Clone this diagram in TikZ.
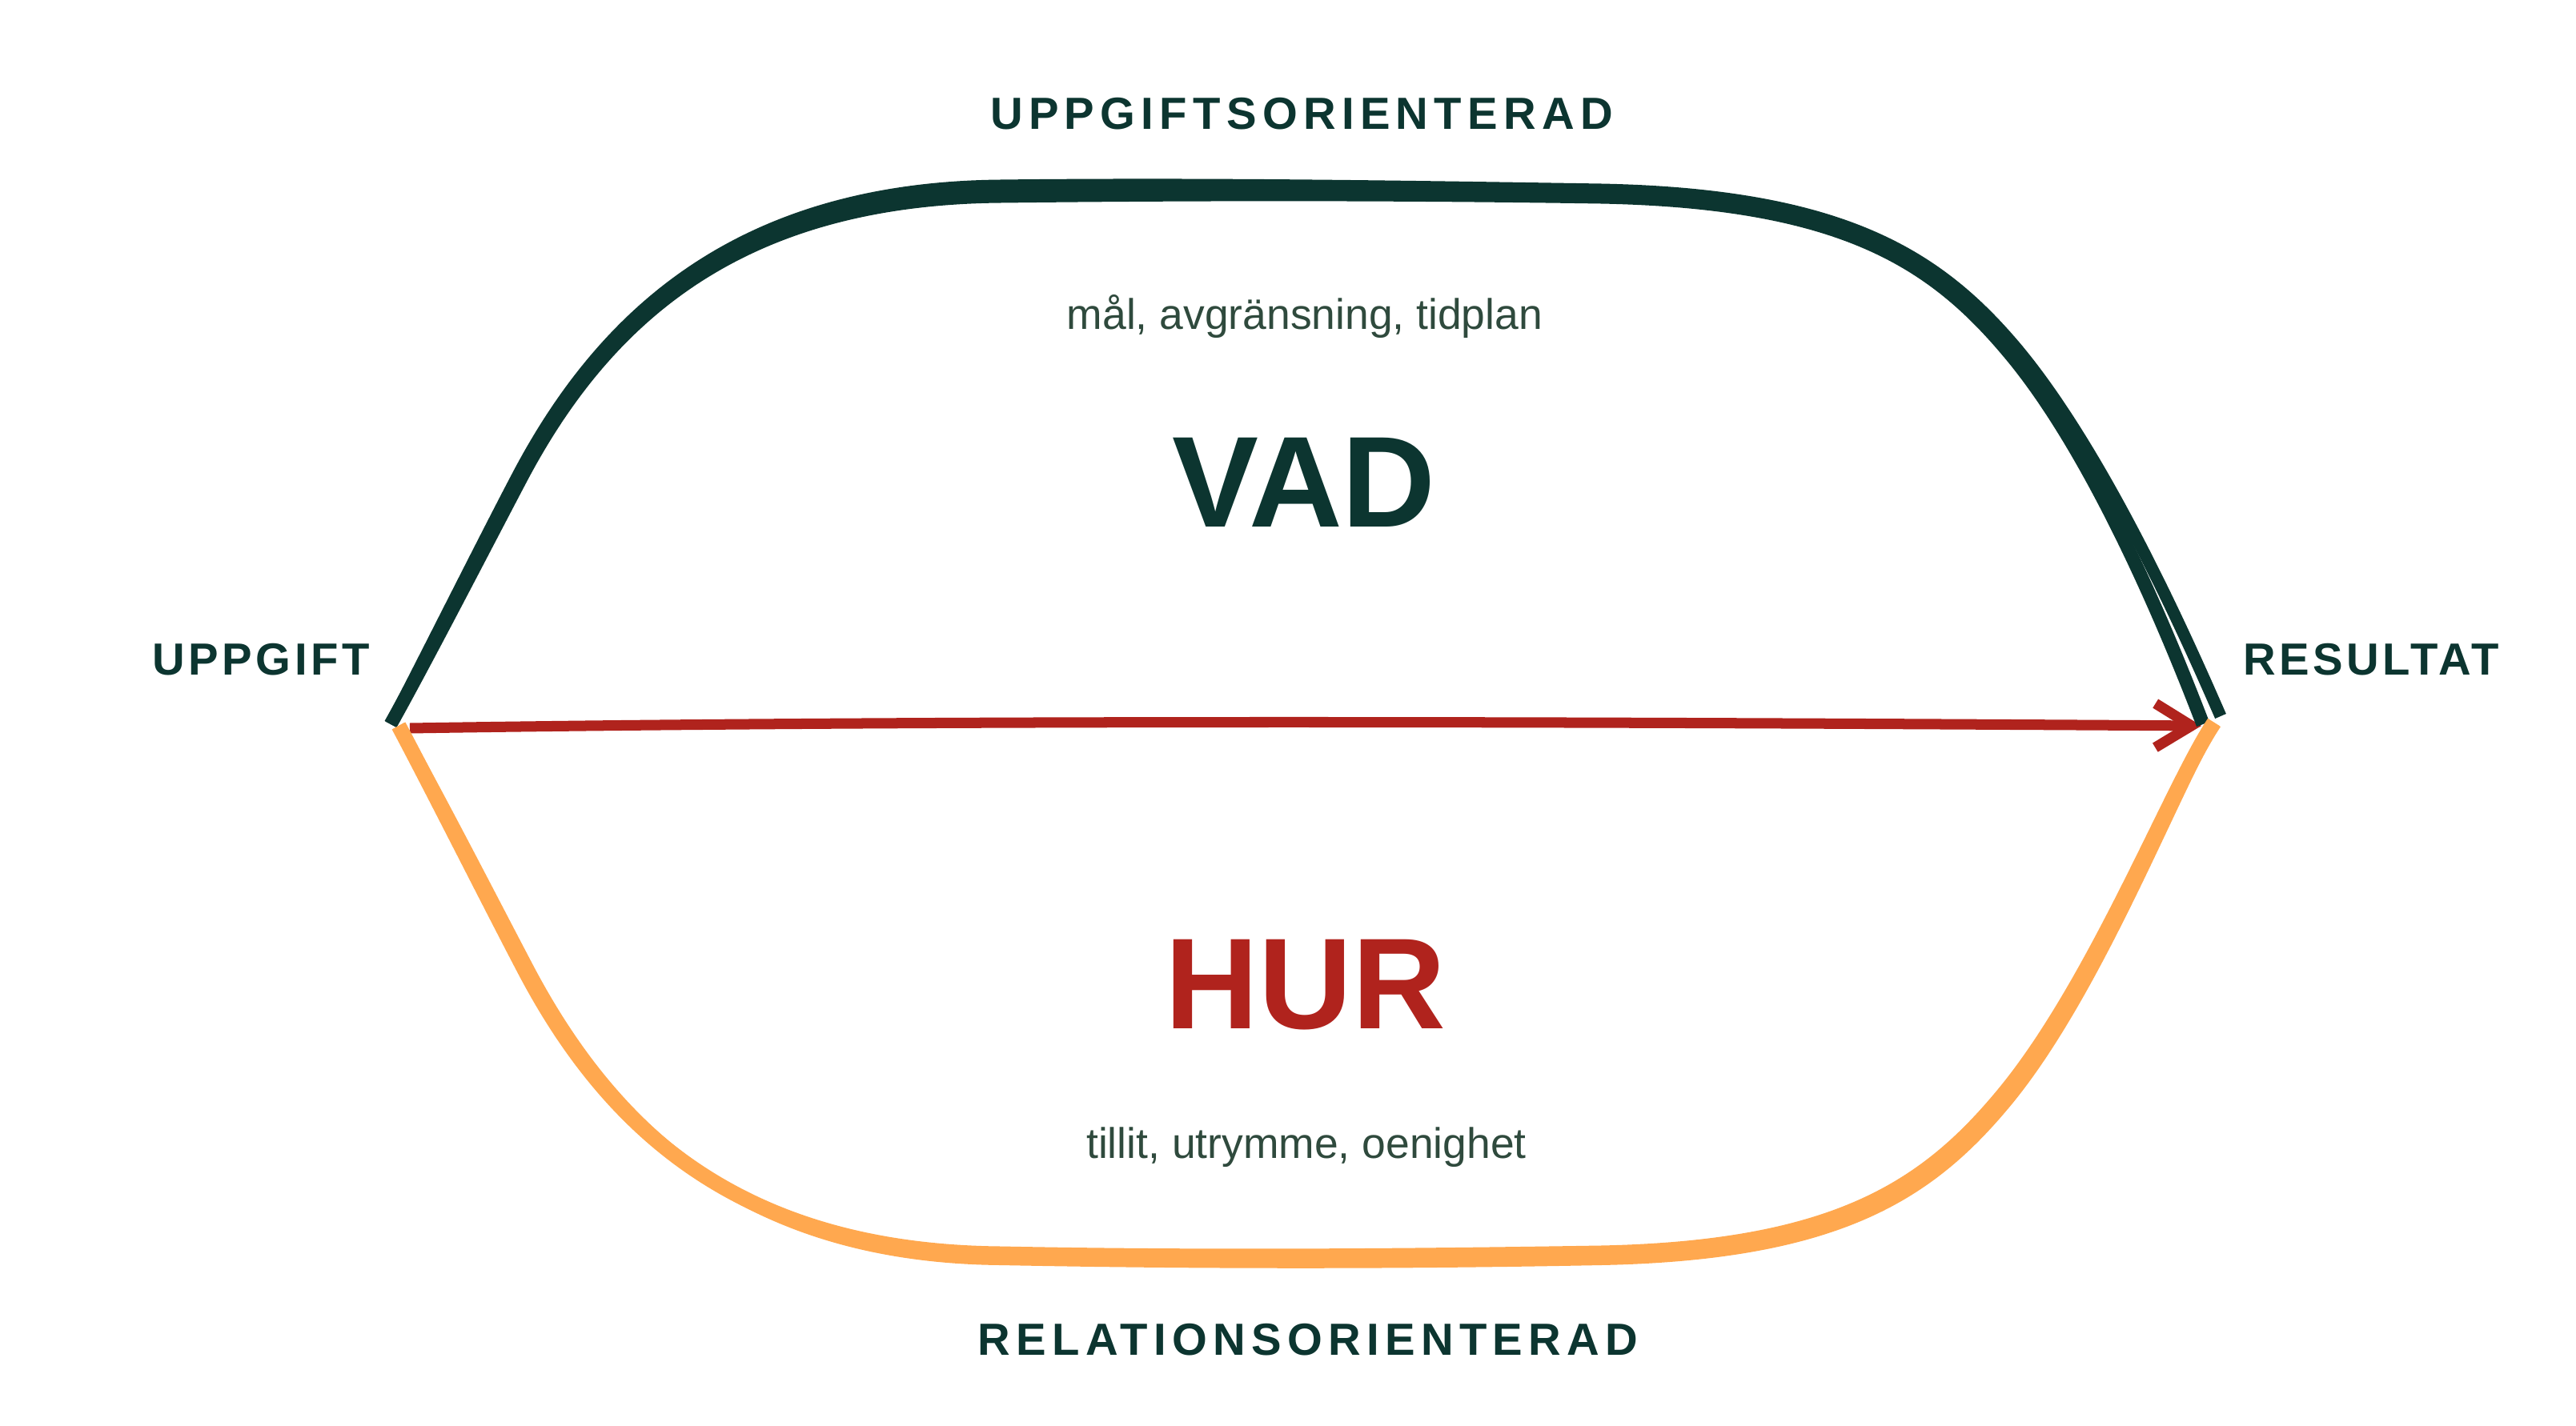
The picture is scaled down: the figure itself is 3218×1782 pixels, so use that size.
\documentclass[tikz,border=0pt]{standalone}
\usepackage{fontspec}
\setmainfont{Liberation Sans}
\newfontfamily\sidecapsfont[LetterSpace=8]{Liberation Sans}
\newfontfamily\widecapsfont[LetterSpace=13]{Liberation Sans}
\usetikzlibrary{arrows.meta}
\definecolor{vadgreen}{HTML}{0C3530}
\definecolor{hurred}{HTML}{B0231D}
\definecolor{relorange}{HTML}{FFA84F}
\definecolor{subgray}{HTML}{2F4A3D}
\begin{document}
\begin{tikzpicture}[x=0.01cm,y=-0.01cm,
  toplabel/.style={inner sep=0pt, anchor=base, text=vadgreen,
    font={\widecapsfont\bfseries\fontsize{16}{19}\selectfont}},
  sidelabel/.style={inner sep=0pt, anchor=base, text=vadgreen,
    font={\sidecapsfont\bfseries\fontsize{16}{19}\selectfont}},
  bigword/.style={inner sep=0pt, anchor=base,
    font={\bfseries\fontsize{46}{50}\selectfont}},
  subtext/.style={inner sep=0pt, anchor=base, text=subgray,
    font={\fontsize{15.2}{18}\selectfont}},
  greenA/.style={draw=vadgreen, line width=0.17cm},
  greenB/.style={draw=vadgreen, line width=0.15cm},
  orangeA/.style={draw=relorange, line width=0.19cm},
  orangeB/.style={draw=relorange, line width=0.16cm},
  redarrow/.style={draw=hurred, line width=0.13cm,
    -{Straight Barb[length=0.45cm,width=0.55cm]}}
]
\useasboundingbox (0,0) rectangle (3218,1782);

% end points
\coordinate (gL) at (488,905);
\coordinate (gRa) at (2752,905);
\coordinate (gRb) at (2774,895);
\coordinate (oL) at (498,907);
\coordinate (oR) at (2766,903);
\coordinate (rL) at (512,910);
\coordinate (rR) at (2750,907);

% red arrow
\draw[redarrow] (rL) .. controls (1200,899) and (2000,902) .. (rR);

% green (task-oriented) curve, two strands
\draw[greenA] (gL) .. controls (530,830) and (610,675) .. (650,599)
  .. controls (760,390) and (930,248) .. (1250,245)
  .. controls (1500,242) and (1750,242) .. (2000,246)
  .. controls (2300,252) and (2414,326) .. (2510,441)
  .. controls (2626,579) and (2723,830) .. (gRa);
\draw[greenB] (gL) .. controls (528,828) and (606,672) .. (646,596)
  .. controls (756,386) and (930,235) .. (1250,232)
  .. controls (1500,229) and (1750,233) .. (2000,237)
  .. controls (2300,243) and (2420,318) .. (2518,434)
  .. controls (2634,572) and (2742,822) .. (gRb);

% orange (relation-oriented) curve, two strands
\draw[orangeA] (oL) .. controls (538,982) and (616,1137) .. (656,1213)
  .. controls (766,1422) and (936,1564) .. (1250,1567)
  .. controls (1500,1572) and (1750,1570) .. (2000,1566)
  .. controls (2290,1560) and (2404,1486) .. (2500,1371)
  .. controls (2616,1233) and (2713,982) .. (oR);
\draw[orangeB] (oL) .. controls (540,980) and (620,1136) .. (660,1212)
  .. controls (770,1420) and (940,1570) .. (1250,1573)
  .. controls (1500,1578) and (1750,1578) .. (2000,1573)
  .. controls (2296,1567) and (2410,1492) .. (2506,1376)
  .. controls (2620,1238) and (2716,984) .. (oR);

% texts
\node[toplabel] (uo) at (1626,162) {UPPGIFTSORIENTERAD};
\node[toplabel] (ro) at (1634,1693) {RELATIONSORIENTERAD};
\node[sidelabel] (up) at (326,843) {UPPGIFT};
\node[sidelabel] (res) at (2962,843) {RESULTAT};
\node[subtext] (s1) at (1630,411) {mål, avgränsning, tidplan};
\node[bigword, text=vadgreen] (vad) at (1629,658) {VAD};
\node[bigword, text=hurred] (hur) at (1631,1285) {HUR};
\node[subtext] (s2) at (1632,1447) {tillit, utrymme, oenighet};
\end{tikzpicture}
\end{document}
